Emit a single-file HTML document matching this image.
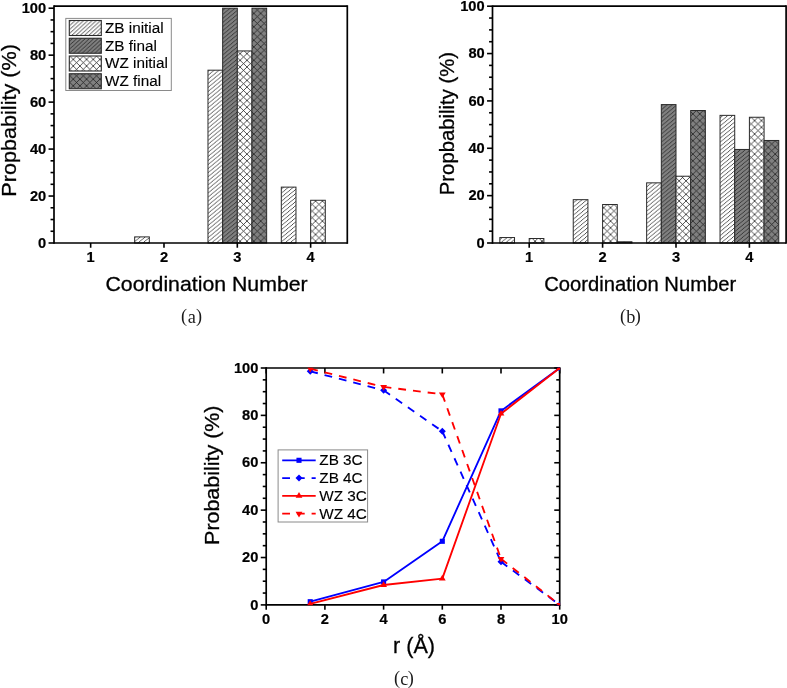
<!DOCTYPE html>
<html><head><meta charset="utf-8"><title>figure</title>
<style>
html,body{margin:0;padding:0;background:#fff;}
body{width:787px;height:688px;overflow:hidden;font-family:"Liberation Sans",sans-serif;}
svg{display:block;will-change:transform;}
</style></head><body>
<svg width="787" height="688" viewBox="0 0 787 688">
<defs>
<pattern id="h1" patternUnits="userSpaceOnUse" width="4.9" height="4.06"><path d="M0,4.06 L4.9,0 M-1.225,1.015 L1.225,-1.015 M3.6750000000000003,5.074999999999999 L6.125,3.045" stroke="#1a1a1a" stroke-width="0.75" fill="none"/></pattern>
<pattern id="h2" patternUnits="userSpaceOnUse" width="4.9" height="4.06"><path d="M0,4.06 L4.9,0 M-1.225,1.015 L1.225,-1.015 M3.6750000000000003,5.074999999999999 L6.125,3.045" stroke="#1a1a1a" stroke-width="0.75" fill="none"/></pattern>
<pattern id="h3" patternUnits="userSpaceOnUse" width="6.86" height="6.7"><path d="M0,6.7 L6.86,0 M-1.715,1.675 L1.715,-1.675 M5.1450000000000005,8.375 L8.575000000000001,5.025 M0,0 L6.86,6.7 M-1.715,5.025 L1.715,8.375 M5.1450000000000005,-1.675 L8.575000000000001,1.675" stroke="#1a1a1a" stroke-width="0.75" fill="none"/></pattern>
<pattern id="h4" patternUnits="userSpaceOnUse" width="6.86" height="6.7"><path d="M0,6.7 L6.86,0 M-1.715,1.675 L1.715,-1.675 M5.1450000000000005,8.375 L8.575000000000001,5.025 M0,0 L6.86,6.7 M-1.715,5.025 L1.715,8.375 M5.1450000000000005,-1.675 L8.575000000000001,1.675" stroke="#1a1a1a" stroke-width="0.75" fill="none"/></pattern>
<pattern id="l1" patternUnits="userSpaceOnUse" width="4.24" height="3.9"><path d="M0,3.9 L4.24,0 M-1.06,0.975 L1.06,-0.975 M3.18,4.875 L5.300000000000001,2.925" stroke="#1a1a1a" stroke-width="0.75" fill="none"/></pattern>
<pattern id="l3" patternUnits="userSpaceOnUse" width="6.66" height="6.6"><path d="M0,6.6 L6.66,0 M-1.665,1.65 L1.665,-1.65 M4.995,8.25 L8.325,4.949999999999999 M0,0 L6.66,6.6 M-1.665,4.949999999999999 L1.665,8.25 M4.995,-1.65 L8.325,1.65" stroke="#1a1a1a" stroke-width="0.75" fill="none"/></pattern>
</defs>
<rect width="787" height="688" fill="#fff"/>
<rect x="134.66" y="236.90" width="14.66" height="6.10" fill="#fff"/>
<rect x="134.66" y="236.90" width="14.66" height="6.10" fill="url(#h1)" stroke="#2a2a2a" stroke-width="1"/>
<rect x="207.98" y="70.19" width="14.66" height="172.81" fill="#fff"/>
<rect x="207.98" y="70.19" width="14.66" height="172.81" fill="url(#h1)" stroke="#2a2a2a" stroke-width="1"/>
<rect x="281.31" y="187.12" width="14.66" height="55.88" fill="#fff"/>
<rect x="281.31" y="187.12" width="14.66" height="55.88" fill="url(#h1)" stroke="#2a2a2a" stroke-width="1"/>
<rect x="222.65" y="8.20" width="14.66" height="234.80" fill="#808080"/>
<rect x="222.65" y="8.20" width="14.66" height="234.80" fill="url(#h2)" stroke="#2a2a2a" stroke-width="1"/>
<rect x="237.31" y="50.93" width="14.66" height="192.07" fill="#fff"/>
<rect x="237.31" y="50.93" width="14.66" height="192.07" fill="url(#h3)" stroke="#2a2a2a" stroke-width="1"/>
<rect x="310.64" y="200.27" width="14.67" height="42.73" fill="#fff"/>
<rect x="310.64" y="200.27" width="14.67" height="42.73" fill="url(#h3)" stroke="#2a2a2a" stroke-width="1"/>
<rect x="251.98" y="8.20" width="14.67" height="234.80" fill="#808080"/>
<rect x="251.98" y="8.20" width="14.67" height="234.80" fill="url(#h4)" stroke="#2a2a2a" stroke-width="1"/>
<line x1="54.00" y1="5.25" x2="54.00" y2="243.85" stroke="#000" stroke-width="1.7" />
<line x1="347.30" y1="5.25" x2="347.30" y2="243.85" stroke="#000" stroke-width="1.7" />
<line x1="54.00" y1="6.10" x2="347.30" y2="6.10" stroke="#000" stroke-width="1.7" />
<line x1="54.00" y1="243.00" x2="347.30" y2="243.00" stroke="#000" stroke-width="1.7" />
<line x1="48.55" y1="243.00" x2="54.00" y2="243.00" stroke="#000" stroke-width="1.6" />
<text x="46.20" y="247.60" font-family="'Liberation Sans', sans-serif" font-size="14.67" font-weight="bold" text-anchor="end" stroke="#000" stroke-width="0.2" >0</text>
<line x1="50.55" y1="231.26" x2="54.00" y2="231.26" stroke="#000" stroke-width="1.6" />
<line x1="50.55" y1="219.52" x2="54.00" y2="219.52" stroke="#000" stroke-width="1.6" />
<line x1="50.55" y1="207.78" x2="54.00" y2="207.78" stroke="#000" stroke-width="1.6" />
<line x1="48.55" y1="196.04" x2="54.00" y2="196.04" stroke="#000" stroke-width="1.6" />
<text x="46.20" y="200.64" font-family="'Liberation Sans', sans-serif" font-size="14.67" font-weight="bold" text-anchor="end" stroke="#000" stroke-width="0.2" >20</text>
<line x1="50.55" y1="184.30" x2="54.00" y2="184.30" stroke="#000" stroke-width="1.6" />
<line x1="50.55" y1="172.56" x2="54.00" y2="172.56" stroke="#000" stroke-width="1.6" />
<line x1="50.55" y1="160.82" x2="54.00" y2="160.82" stroke="#000" stroke-width="1.6" />
<line x1="48.55" y1="149.08" x2="54.00" y2="149.08" stroke="#000" stroke-width="1.6" />
<text x="46.20" y="153.68" font-family="'Liberation Sans', sans-serif" font-size="14.67" font-weight="bold" text-anchor="end" stroke="#000" stroke-width="0.2" >40</text>
<line x1="50.55" y1="137.34" x2="54.00" y2="137.34" stroke="#000" stroke-width="1.6" />
<line x1="50.55" y1="125.60" x2="54.00" y2="125.60" stroke="#000" stroke-width="1.6" />
<line x1="50.55" y1="113.86" x2="54.00" y2="113.86" stroke="#000" stroke-width="1.6" />
<line x1="48.55" y1="102.12" x2="54.00" y2="102.12" stroke="#000" stroke-width="1.6" />
<text x="46.20" y="106.72" font-family="'Liberation Sans', sans-serif" font-size="14.67" font-weight="bold" text-anchor="end" stroke="#000" stroke-width="0.2" >60</text>
<line x1="50.55" y1="90.38" x2="54.00" y2="90.38" stroke="#000" stroke-width="1.6" />
<line x1="50.55" y1="78.64" x2="54.00" y2="78.64" stroke="#000" stroke-width="1.6" />
<line x1="50.55" y1="66.90" x2="54.00" y2="66.90" stroke="#000" stroke-width="1.6" />
<line x1="48.55" y1="55.16" x2="54.00" y2="55.16" stroke="#000" stroke-width="1.6" />
<text x="46.20" y="59.76" font-family="'Liberation Sans', sans-serif" font-size="14.67" font-weight="bold" text-anchor="end" stroke="#000" stroke-width="0.2" >80</text>
<line x1="50.55" y1="43.42" x2="54.00" y2="43.42" stroke="#000" stroke-width="1.6" />
<line x1="50.55" y1="31.68" x2="54.00" y2="31.68" stroke="#000" stroke-width="1.6" />
<line x1="50.55" y1="19.94" x2="54.00" y2="19.94" stroke="#000" stroke-width="1.6" />
<line x1="48.55" y1="8.20" x2="54.00" y2="8.20" stroke="#000" stroke-width="1.6" />
<text x="46.20" y="12.80" font-family="'Liberation Sans', sans-serif" font-size="14.67" font-weight="bold" text-anchor="end" stroke="#000" stroke-width="0.2" >100</text>
<line x1="90.66" y1="243.00" x2="90.66" y2="247.75" stroke="#000" stroke-width="1.6" />
<text x="90.66" y="262.10" font-family="'Liberation Sans', sans-serif" font-size="14.67" font-weight="bold" text-anchor="middle" stroke="#000" stroke-width="0.2" >1</text>
<line x1="163.99" y1="243.00" x2="163.99" y2="247.75" stroke="#000" stroke-width="1.6" />
<text x="163.99" y="262.10" font-family="'Liberation Sans', sans-serif" font-size="14.67" font-weight="bold" text-anchor="middle" stroke="#000" stroke-width="0.2" >2</text>
<line x1="237.31" y1="243.00" x2="237.31" y2="247.75" stroke="#000" stroke-width="1.6" />
<text x="237.31" y="262.10" font-family="'Liberation Sans', sans-serif" font-size="14.67" font-weight="bold" text-anchor="middle" stroke="#000" stroke-width="0.2" >3</text>
<line x1="310.64" y1="243.00" x2="310.64" y2="247.75" stroke="#000" stroke-width="1.6" />
<text x="310.64" y="262.10" font-family="'Liberation Sans', sans-serif" font-size="14.67" font-weight="bold" text-anchor="middle" stroke="#000" stroke-width="0.2" >4</text>
<text x="206.55" y="291.00" font-family="'Liberation Sans', sans-serif" font-size="20.6" font-weight="normal" text-anchor="middle" stroke="#000" stroke-width="0.3" textLength="202.2" lengthAdjust="spacingAndGlyphs">Coordination Number</text>
<text x="16.30" y="120.40" font-family="'Liberation Sans', sans-serif" font-size="20.6" font-weight="normal" text-anchor="middle" stroke="#000" stroke-width="0.3" textLength="152.5" lengthAdjust="spacingAndGlyphs" transform="rotate(-90 16.30 120.40)">Propbability (%)</text>
<rect x="499.84" y="237.55" width="14.68" height="5.45" fill="#fff"/>
<rect x="499.84" y="237.55" width="14.68" height="5.45" fill="url(#h1)" stroke="#2a2a2a" stroke-width="1"/>
<rect x="573.24" y="199.67" width="14.68" height="43.33" fill="#fff"/>
<rect x="573.24" y="199.67" width="14.68" height="43.33" fill="url(#h1)" stroke="#2a2a2a" stroke-width="1"/>
<rect x="646.64" y="182.85" width="14.68" height="60.15" fill="#fff"/>
<rect x="646.64" y="182.85" width="14.68" height="60.15" fill="url(#h1)" stroke="#2a2a2a" stroke-width="1"/>
<rect x="720.04" y="115.36" width="14.68" height="127.64" fill="#fff"/>
<rect x="720.04" y="115.36" width="14.68" height="127.64" fill="url(#h1)" stroke="#2a2a2a" stroke-width="1"/>
<rect x="661.32" y="104.59" width="14.68" height="138.41" fill="#808080"/>
<rect x="661.32" y="104.59" width="14.68" height="138.41" fill="url(#h2)" stroke="#2a2a2a" stroke-width="1"/>
<rect x="734.72" y="149.46" width="14.68" height="93.54" fill="#808080"/>
<rect x="734.72" y="149.46" width="14.68" height="93.54" fill="url(#h2)" stroke="#2a2a2a" stroke-width="1"/>
<rect x="529.20" y="238.50" width="14.68" height="4.50" fill="#fff"/>
<rect x="529.20" y="238.50" width="14.68" height="4.50" fill="url(#h3)" stroke="#2a2a2a" stroke-width="1"/>
<rect x="602.60" y="204.52" width="14.68" height="38.48" fill="#fff"/>
<rect x="602.60" y="204.52" width="14.68" height="38.48" fill="url(#h3)" stroke="#2a2a2a" stroke-width="1"/>
<rect x="676.00" y="176.22" width="14.68" height="66.78" fill="#fff"/>
<rect x="676.00" y="176.22" width="14.68" height="66.78" fill="url(#h3)" stroke="#2a2a2a" stroke-width="1"/>
<rect x="749.40" y="117.26" width="14.68" height="125.74" fill="#fff"/>
<rect x="749.40" y="117.26" width="14.68" height="125.74" fill="url(#h3)" stroke="#2a2a2a" stroke-width="1"/>
<rect x="617.28" y="241.82" width="14.68" height="1.18" fill="#808080"/>
<rect x="617.28" y="241.82" width="14.68" height="1.18" fill="url(#h4)" stroke="#2a2a2a" stroke-width="1"/>
<rect x="690.68" y="110.51" width="14.68" height="132.49" fill="#808080"/>
<rect x="690.68" y="110.51" width="14.68" height="132.49" fill="url(#h4)" stroke="#2a2a2a" stroke-width="1"/>
<rect x="764.08" y="140.47" width="14.68" height="102.53" fill="#808080"/>
<rect x="764.08" y="140.47" width="14.68" height="102.53" fill="url(#h4)" stroke="#2a2a2a" stroke-width="1"/>
<line x1="492.50" y1="5.35" x2="492.50" y2="243.85" stroke="#000" stroke-width="1.7" />
<line x1="786.10" y1="5.35" x2="786.10" y2="243.85" stroke="#000" stroke-width="1.7" />
<line x1="492.50" y1="6.20" x2="786.10" y2="6.20" stroke="#000" stroke-width="1.7" />
<line x1="492.50" y1="243.00" x2="786.10" y2="243.00" stroke="#000" stroke-width="1.7" />
<line x1="487.05" y1="243.00" x2="492.50" y2="243.00" stroke="#000" stroke-width="1.6" />
<text x="484.70" y="247.60" font-family="'Liberation Sans', sans-serif" font-size="14.67" font-weight="bold" text-anchor="end" stroke="#000" stroke-width="0.2" >0</text>
<line x1="489.05" y1="231.16" x2="492.50" y2="231.16" stroke="#000" stroke-width="1.6" />
<line x1="489.05" y1="219.32" x2="492.50" y2="219.32" stroke="#000" stroke-width="1.6" />
<line x1="489.05" y1="207.48" x2="492.50" y2="207.48" stroke="#000" stroke-width="1.6" />
<line x1="487.05" y1="195.64" x2="492.50" y2="195.64" stroke="#000" stroke-width="1.6" />
<text x="484.70" y="200.24" font-family="'Liberation Sans', sans-serif" font-size="14.67" font-weight="bold" text-anchor="end" stroke="#000" stroke-width="0.2" >20</text>
<line x1="489.05" y1="183.80" x2="492.50" y2="183.80" stroke="#000" stroke-width="1.6" />
<line x1="489.05" y1="171.96" x2="492.50" y2="171.96" stroke="#000" stroke-width="1.6" />
<line x1="489.05" y1="160.12" x2="492.50" y2="160.12" stroke="#000" stroke-width="1.6" />
<line x1="487.05" y1="148.28" x2="492.50" y2="148.28" stroke="#000" stroke-width="1.6" />
<text x="484.70" y="152.88" font-family="'Liberation Sans', sans-serif" font-size="14.67" font-weight="bold" text-anchor="end" stroke="#000" stroke-width="0.2" >40</text>
<line x1="489.05" y1="136.44" x2="492.50" y2="136.44" stroke="#000" stroke-width="1.6" />
<line x1="489.05" y1="124.60" x2="492.50" y2="124.60" stroke="#000" stroke-width="1.6" />
<line x1="489.05" y1="112.76" x2="492.50" y2="112.76" stroke="#000" stroke-width="1.6" />
<line x1="487.05" y1="100.92" x2="492.50" y2="100.92" stroke="#000" stroke-width="1.6" />
<text x="484.70" y="105.52" font-family="'Liberation Sans', sans-serif" font-size="14.67" font-weight="bold" text-anchor="end" stroke="#000" stroke-width="0.2" >60</text>
<line x1="489.05" y1="89.08" x2="492.50" y2="89.08" stroke="#000" stroke-width="1.6" />
<line x1="489.05" y1="77.24" x2="492.50" y2="77.24" stroke="#000" stroke-width="1.6" />
<line x1="489.05" y1="65.40" x2="492.50" y2="65.40" stroke="#000" stroke-width="1.6" />
<line x1="487.05" y1="53.56" x2="492.50" y2="53.56" stroke="#000" stroke-width="1.6" />
<text x="484.70" y="58.16" font-family="'Liberation Sans', sans-serif" font-size="14.67" font-weight="bold" text-anchor="end" stroke="#000" stroke-width="0.2" >80</text>
<line x1="489.05" y1="41.72" x2="492.50" y2="41.72" stroke="#000" stroke-width="1.6" />
<line x1="489.05" y1="29.88" x2="492.50" y2="29.88" stroke="#000" stroke-width="1.6" />
<line x1="489.05" y1="18.04" x2="492.50" y2="18.04" stroke="#000" stroke-width="1.6" />
<line x1="487.05" y1="6.20" x2="492.50" y2="6.20" stroke="#000" stroke-width="1.6" />
<text x="484.70" y="10.80" font-family="'Liberation Sans', sans-serif" font-size="14.67" font-weight="bold" text-anchor="end" stroke="#000" stroke-width="0.2" >100</text>
<line x1="529.20" y1="243.00" x2="529.20" y2="247.75" stroke="#000" stroke-width="1.6" />
<text x="529.20" y="262.10" font-family="'Liberation Sans', sans-serif" font-size="14.67" font-weight="bold" text-anchor="middle" stroke="#000" stroke-width="0.2" >1</text>
<line x1="602.60" y1="243.00" x2="602.60" y2="247.75" stroke="#000" stroke-width="1.6" />
<text x="602.60" y="262.10" font-family="'Liberation Sans', sans-serif" font-size="14.67" font-weight="bold" text-anchor="middle" stroke="#000" stroke-width="0.2" >2</text>
<line x1="676.00" y1="243.00" x2="676.00" y2="247.75" stroke="#000" stroke-width="1.6" />
<text x="676.00" y="262.10" font-family="'Liberation Sans', sans-serif" font-size="14.67" font-weight="bold" text-anchor="middle" stroke="#000" stroke-width="0.2" >3</text>
<line x1="749.40" y1="243.00" x2="749.40" y2="247.75" stroke="#000" stroke-width="1.6" />
<text x="749.40" y="262.10" font-family="'Liberation Sans', sans-serif" font-size="14.67" font-weight="bold" text-anchor="middle" stroke="#000" stroke-width="0.2" >4</text>
<text x="640.20" y="291.00" font-family="'Liberation Sans', sans-serif" font-size="20.2" font-weight="normal" text-anchor="middle" stroke="#000" stroke-width="0.3" >Coordination Number</text>
<text x="454.00" y="123.60" font-family="'Liberation Sans', sans-serif" font-size="20.3" font-weight="normal" text-anchor="middle" stroke="#000" stroke-width="0.3"  transform="rotate(-90 454.00 123.60)">Propbability (%)</text>
<rect x="65.8" y="18.4" width="105.50" height="72.10" fill="#fff" stroke="#8a8a8a" stroke-width="1"/>
<rect x="69.3" y="20.50" width="32.0" height="15.0" fill="#fff"/>
<rect x="69.3" y="20.50" width="32.0" height="15.0" fill="url(#l1)" stroke="#2a2a2a" stroke-width="1.1"/>
<text x="105.00" y="32.90" font-family="'Liberation Sans', sans-serif" font-size="15.3" font-weight="normal" text-anchor="start" stroke="#000" stroke-width="0.12" >ZB initial</text>
<rect x="69.3" y="38.25" width="32.0" height="15.0" fill="#808080"/>
<rect x="69.3" y="38.25" width="32.0" height="15.0" fill="url(#l1)" stroke="#2a2a2a" stroke-width="1.1"/>
<text x="105.00" y="50.55" font-family="'Liberation Sans', sans-serif" font-size="15.3" font-weight="normal" text-anchor="start" stroke="#000" stroke-width="0.12" >ZB final</text>
<rect x="69.3" y="56.00" width="32.0" height="15.0" fill="#fff"/>
<rect x="69.3" y="56.00" width="32.0" height="15.0" fill="url(#l3)" stroke="#2a2a2a" stroke-width="1.1"/>
<text x="105.00" y="68.20" font-family="'Liberation Sans', sans-serif" font-size="15.3" font-weight="normal" text-anchor="start" stroke="#000" stroke-width="0.12" >WZ initial</text>
<rect x="69.3" y="73.75" width="32.0" height="15.0" fill="#808080"/>
<rect x="69.3" y="73.75" width="32.0" height="15.0" fill="url(#l3)" stroke="#2a2a2a" stroke-width="1.1"/>
<text x="105.00" y="85.85" font-family="'Liberation Sans', sans-serif" font-size="15.3" font-weight="normal" text-anchor="start" stroke="#000" stroke-width="0.12" >WZ final</text>
<line x1="266.20" y1="367.15" x2="266.20" y2="605.75" stroke="#000" stroke-width="1.7" />
<line x1="559.70" y1="367.15" x2="559.70" y2="605.75" stroke="#000" stroke-width="1.7" />
<line x1="266.20" y1="368.00" x2="559.70" y2="368.00" stroke="#000" stroke-width="1.7" />
<line x1="266.20" y1="604.90" x2="559.70" y2="604.90" stroke="#000" stroke-width="1.7" />
<line x1="260.75" y1="604.90" x2="266.20" y2="604.90" stroke="#000" stroke-width="1.6" />
<line x1="559.70" y1="604.90" x2="554.25" y2="604.90" stroke="#000" stroke-width="1.6" />
<text x="258.40" y="609.50" font-family="'Liberation Sans', sans-serif" font-size="14.67" font-weight="bold" text-anchor="end" stroke="#000" stroke-width="0.2" >0</text>
<line x1="262.75" y1="593.05" x2="266.20" y2="593.05" stroke="#000" stroke-width="1.6" />
<line x1="559.70" y1="593.05" x2="556.25" y2="593.05" stroke="#000" stroke-width="1.6" />
<line x1="262.75" y1="581.21" x2="266.20" y2="581.21" stroke="#000" stroke-width="1.6" />
<line x1="559.70" y1="581.21" x2="556.25" y2="581.21" stroke="#000" stroke-width="1.6" />
<line x1="262.75" y1="569.37" x2="266.20" y2="569.37" stroke="#000" stroke-width="1.6" />
<line x1="559.70" y1="569.37" x2="556.25" y2="569.37" stroke="#000" stroke-width="1.6" />
<line x1="260.75" y1="557.52" x2="266.20" y2="557.52" stroke="#000" stroke-width="1.6" />
<line x1="559.70" y1="557.52" x2="554.25" y2="557.52" stroke="#000" stroke-width="1.6" />
<text x="258.40" y="562.12" font-family="'Liberation Sans', sans-serif" font-size="14.67" font-weight="bold" text-anchor="end" stroke="#000" stroke-width="0.2" >20</text>
<line x1="262.75" y1="545.67" x2="266.20" y2="545.67" stroke="#000" stroke-width="1.6" />
<line x1="559.70" y1="545.67" x2="556.25" y2="545.67" stroke="#000" stroke-width="1.6" />
<line x1="262.75" y1="533.83" x2="266.20" y2="533.83" stroke="#000" stroke-width="1.6" />
<line x1="559.70" y1="533.83" x2="556.25" y2="533.83" stroke="#000" stroke-width="1.6" />
<line x1="262.75" y1="521.99" x2="266.20" y2="521.99" stroke="#000" stroke-width="1.6" />
<line x1="559.70" y1="521.99" x2="556.25" y2="521.99" stroke="#000" stroke-width="1.6" />
<line x1="260.75" y1="510.14" x2="266.20" y2="510.14" stroke="#000" stroke-width="1.6" />
<line x1="559.70" y1="510.14" x2="554.25" y2="510.14" stroke="#000" stroke-width="1.6" />
<text x="258.40" y="514.74" font-family="'Liberation Sans', sans-serif" font-size="14.67" font-weight="bold" text-anchor="end" stroke="#000" stroke-width="0.2" >40</text>
<line x1="262.75" y1="498.29" x2="266.20" y2="498.29" stroke="#000" stroke-width="1.6" />
<line x1="559.70" y1="498.29" x2="556.25" y2="498.29" stroke="#000" stroke-width="1.6" />
<line x1="262.75" y1="486.45" x2="266.20" y2="486.45" stroke="#000" stroke-width="1.6" />
<line x1="559.70" y1="486.45" x2="556.25" y2="486.45" stroke="#000" stroke-width="1.6" />
<line x1="262.75" y1="474.61" x2="266.20" y2="474.61" stroke="#000" stroke-width="1.6" />
<line x1="559.70" y1="474.61" x2="556.25" y2="474.61" stroke="#000" stroke-width="1.6" />
<line x1="260.75" y1="462.76" x2="266.20" y2="462.76" stroke="#000" stroke-width="1.6" />
<line x1="559.70" y1="462.76" x2="554.25" y2="462.76" stroke="#000" stroke-width="1.6" />
<text x="258.40" y="467.36" font-family="'Liberation Sans', sans-serif" font-size="14.67" font-weight="bold" text-anchor="end" stroke="#000" stroke-width="0.2" >60</text>
<line x1="262.75" y1="450.91" x2="266.20" y2="450.91" stroke="#000" stroke-width="1.6" />
<line x1="559.70" y1="450.91" x2="556.25" y2="450.91" stroke="#000" stroke-width="1.6" />
<line x1="262.75" y1="439.07" x2="266.20" y2="439.07" stroke="#000" stroke-width="1.6" />
<line x1="559.70" y1="439.07" x2="556.25" y2="439.07" stroke="#000" stroke-width="1.6" />
<line x1="262.75" y1="427.23" x2="266.20" y2="427.23" stroke="#000" stroke-width="1.6" />
<line x1="559.70" y1="427.23" x2="556.25" y2="427.23" stroke="#000" stroke-width="1.6" />
<line x1="260.75" y1="415.38" x2="266.20" y2="415.38" stroke="#000" stroke-width="1.6" />
<line x1="559.70" y1="415.38" x2="554.25" y2="415.38" stroke="#000" stroke-width="1.6" />
<text x="258.40" y="419.98" font-family="'Liberation Sans', sans-serif" font-size="14.67" font-weight="bold" text-anchor="end" stroke="#000" stroke-width="0.2" >80</text>
<line x1="262.75" y1="403.53" x2="266.20" y2="403.53" stroke="#000" stroke-width="1.6" />
<line x1="559.70" y1="403.53" x2="556.25" y2="403.53" stroke="#000" stroke-width="1.6" />
<line x1="262.75" y1="391.69" x2="266.20" y2="391.69" stroke="#000" stroke-width="1.6" />
<line x1="559.70" y1="391.69" x2="556.25" y2="391.69" stroke="#000" stroke-width="1.6" />
<line x1="262.75" y1="379.85" x2="266.20" y2="379.85" stroke="#000" stroke-width="1.6" />
<line x1="559.70" y1="379.85" x2="556.25" y2="379.85" stroke="#000" stroke-width="1.6" />
<line x1="260.75" y1="368.00" x2="266.20" y2="368.00" stroke="#000" stroke-width="1.6" />
<line x1="559.70" y1="368.00" x2="554.25" y2="368.00" stroke="#000" stroke-width="1.6" />
<text x="258.40" y="372.60" font-family="'Liberation Sans', sans-serif" font-size="14.67" font-weight="bold" text-anchor="end" stroke="#000" stroke-width="0.2" >100</text>
<line x1="266.20" y1="604.90" x2="266.20" y2="609.65" stroke="#000" stroke-width="1.6" />
<line x1="266.20" y1="368.00" x2="266.20" y2="373.45" stroke="#000" stroke-width="1.6" />
<text x="266.20" y="624.00" font-family="'Liberation Sans', sans-serif" font-size="14.67" font-weight="bold" text-anchor="middle" stroke="#000" stroke-width="0.2" >0</text>
<line x1="324.90" y1="604.90" x2="324.90" y2="609.65" stroke="#000" stroke-width="1.6" />
<line x1="324.90" y1="368.00" x2="324.90" y2="373.45" stroke="#000" stroke-width="1.6" />
<text x="324.90" y="624.00" font-family="'Liberation Sans', sans-serif" font-size="14.67" font-weight="bold" text-anchor="middle" stroke="#000" stroke-width="0.2" >2</text>
<line x1="383.60" y1="604.90" x2="383.60" y2="609.65" stroke="#000" stroke-width="1.6" />
<line x1="383.60" y1="368.00" x2="383.60" y2="373.45" stroke="#000" stroke-width="1.6" />
<text x="383.60" y="624.00" font-family="'Liberation Sans', sans-serif" font-size="14.67" font-weight="bold" text-anchor="middle" stroke="#000" stroke-width="0.2" >4</text>
<line x1="442.30" y1="604.90" x2="442.30" y2="609.65" stroke="#000" stroke-width="1.6" />
<line x1="442.30" y1="368.00" x2="442.30" y2="373.45" stroke="#000" stroke-width="1.6" />
<text x="442.30" y="624.00" font-family="'Liberation Sans', sans-serif" font-size="14.67" font-weight="bold" text-anchor="middle" stroke="#000" stroke-width="0.2" >6</text>
<line x1="501.00" y1="604.90" x2="501.00" y2="609.65" stroke="#000" stroke-width="1.6" />
<line x1="501.00" y1="368.00" x2="501.00" y2="373.45" stroke="#000" stroke-width="1.6" />
<text x="501.00" y="624.00" font-family="'Liberation Sans', sans-serif" font-size="14.67" font-weight="bold" text-anchor="middle" stroke="#000" stroke-width="0.2" >8</text>
<line x1="559.70" y1="604.90" x2="559.70" y2="609.65" stroke="#000" stroke-width="1.6" />
<line x1="559.70" y1="368.00" x2="559.70" y2="373.45" stroke="#000" stroke-width="1.6" />
<text x="559.70" y="624.00" font-family="'Liberation Sans', sans-serif" font-size="14.67" font-weight="bold" text-anchor="middle" stroke="#000" stroke-width="0.2" >10</text>
<clipPath id="cc"><rect x="266.2" y="367.7" width="293.90000000000003" height="237.49999999999997"/></clipPath>
<g clip-path="url(#cc)">
<polyline points="310.23,601.70 383.60,581.92 442.30,541.29 501.00,410.88 559.70,368.00" fill="none" stroke="#0000ff" stroke-width="1.85" stroke-linejoin="round"/>
<rect x="307.68" y="599.15" width="5.1" height="5.1" fill="#0000ff"/>
<rect x="381.05" y="579.37" width="5.1" height="5.1" fill="#0000ff"/>
<rect x="439.75" y="538.74" width="5.1" height="5.1" fill="#0000ff"/>
<rect x="498.45" y="408.33" width="5.1" height="5.1" fill="#0000ff"/>
<rect x="557.15" y="365.45" width="5.1" height="5.1" fill="#0000ff"/>
<line x1="310.23" y1="371.32" x2="383.60" y2="390.27" stroke="#0000ff" stroke-width="1.85" stroke-dasharray="7.8 7.0"/>
<line x1="383.60" y1="390.27" x2="442.30" y2="431.25" stroke="#0000ff" stroke-width="1.85" stroke-dasharray="7.8 7.0"/>
<line x1="442.30" y1="431.25" x2="501.00" y2="561.78" stroke="#0000ff" stroke-width="1.85" stroke-dasharray="7.8 7.0"/>
<line x1="501.00" y1="561.78" x2="559.70" y2="604.90" stroke="#0000ff" stroke-width="1.85" stroke-dasharray="7.8 7.0"/>
<polygon points="310.23,367.82 313.73,371.32 310.23,374.82 306.73,371.32" fill="#0000ff"/>
<polygon points="383.60,386.77 387.10,390.27 383.60,393.77 380.10,390.27" fill="#0000ff"/>
<polygon points="442.30,427.75 445.80,431.25 442.30,434.75 438.80,431.25" fill="#0000ff"/>
<polygon points="501.00,558.28 504.50,561.78 501.00,565.28 497.50,561.78" fill="#0000ff"/>
<polygon points="559.70,601.40 563.20,604.90 559.70,608.40 556.20,604.90" fill="#0000ff"/>
<polyline points="310.23,603.95 383.60,585.00 442.30,578.60 501.00,413.72 559.70,368.00" fill="none" stroke="#ff0000" stroke-width="1.85" stroke-linejoin="round"/>
<polygon points="310.23,600.15 313.62,605.85 306.83,605.85" fill="#ff0000"/>
<polygon points="383.60,581.20 387.00,586.90 380.20,586.90" fill="#ff0000"/>
<polygon points="442.30,574.80 445.70,580.50 438.90,580.50" fill="#ff0000"/>
<polygon points="501.00,409.92 504.40,415.62 497.60,415.62" fill="#ff0000"/>
<polygon points="559.70,364.20 563.10,369.90 556.30,369.90" fill="#ff0000"/>
<line x1="310.23" y1="368.71" x2="383.60" y2="386.95" stroke="#ff0000" stroke-width="1.85" stroke-dasharray="7.8 7.0"/>
<line x1="383.60" y1="386.95" x2="442.30" y2="394.30" stroke="#ff0000" stroke-width="1.85" stroke-dasharray="7.8 7.0"/>
<line x1="442.30" y1="394.30" x2="501.00" y2="558.82" stroke="#ff0000" stroke-width="1.85" stroke-dasharray="7.8 7.0"/>
<line x1="501.00" y1="558.82" x2="559.70" y2="604.90" stroke="#ff0000" stroke-width="1.85" stroke-dasharray="7.8 7.0"/>
<polygon points="310.23,372.51 313.62,366.81 306.83,366.81" fill="#ff0000"/>
<polygon points="383.60,390.75 387.00,385.05 380.20,385.05" fill="#ff0000"/>
<polygon points="442.30,398.10 445.70,392.40 438.90,392.40" fill="#ff0000"/>
<polygon points="501.00,562.62 504.40,556.92 497.60,556.92" fill="#ff0000"/>
<polygon points="559.70,608.70 563.10,603.00 556.30,603.00" fill="#ff0000"/>
</g>
<text x="414.00" y="652.90" font-family="'Liberation Sans', sans-serif" font-size="21.6" font-weight="normal" text-anchor="middle" stroke="#000" stroke-width="0.3" >r (Å)</text>
<text x="219.40" y="475.20" font-family="'Liberation Sans', sans-serif" font-size="20.6" font-weight="normal" text-anchor="middle" stroke="#000" stroke-width="0.3" textLength="139.4" lengthAdjust="spacingAndGlyphs" transform="rotate(-90 219.40 475.20)">Probability (%)</text>
<rect x="278.1" y="449.9" width="89.50" height="72.10" fill="#fff" stroke="#8a8a8a" stroke-width="1"/>
<line x1="282.20" y1="460.30" x2="315.70" y2="460.30" stroke="#0000ff" stroke-width="1.85" />
<rect x="296.45" y="457.75" width="5.1" height="5.1" fill="#0000ff"/>
<text x="319.30" y="465.40" font-family="'Liberation Sans', sans-serif" font-size="15.3" font-weight="normal" text-anchor="start" stroke="#000" stroke-width="0.12" >ZB 3C</text>
<line x1="282.20" y1="478.07" x2="315.70" y2="478.07" stroke="#0000ff" stroke-width="1.85" stroke-dasharray="7.8 6.9"/>
<polygon points="299.00,474.57 302.50,478.07 299.00,481.57 295.50,478.07" fill="#0000ff"/>
<text x="319.30" y="483.17" font-family="'Liberation Sans', sans-serif" font-size="15.3" font-weight="normal" text-anchor="start" stroke="#000" stroke-width="0.12" >ZB 4C</text>
<line x1="282.20" y1="495.84" x2="315.70" y2="495.84" stroke="#ff0000" stroke-width="1.85" />
<polygon points="299.00,492.04 302.40,497.74 295.60,497.74" fill="#ff0000"/>
<text x="319.30" y="500.94" font-family="'Liberation Sans', sans-serif" font-size="15.3" font-weight="normal" text-anchor="start" stroke="#000" stroke-width="0.12" >WZ 3C</text>
<line x1="282.20" y1="513.61" x2="315.70" y2="513.61" stroke="#ff0000" stroke-width="1.85" stroke-dasharray="7.8 6.9"/>
<polygon points="299.00,517.41 302.40,511.71 295.60,511.71" fill="#ff0000"/>
<text x="319.30" y="518.71" font-family="'Liberation Sans', sans-serif" font-size="15.3" font-weight="normal" text-anchor="start" stroke="#000" stroke-width="0.12" >WZ 4C</text>
<text x="184.00" y="322.20" font-family="'Liberation Serif', sans-serif" font-size="18.2" font-weight="normal" text-anchor="middle" fill="#1a1a1a">(</text>
<text x="191.85" y="322.80" font-family="'Liberation Serif', sans-serif" font-size="18.3" font-weight="normal" text-anchor="middle" fill="#1a1a1a">a</text>
<text x="199.00" y="322.20" font-family="'Liberation Serif', sans-serif" font-size="18.2" font-weight="normal" text-anchor="middle" fill="#1a1a1a">)</text>
<text x="623.00" y="322.20" font-family="'Liberation Serif', sans-serif" font-size="18.2" font-weight="normal" text-anchor="middle" fill="#1a1a1a">(</text>
<text x="630.70" y="322.80" font-family="'Liberation Serif', sans-serif" font-size="18.3" font-weight="normal" text-anchor="middle" fill="#1a1a1a">b</text>
<text x="637.70" y="322.20" font-family="'Liberation Serif', sans-serif" font-size="18.2" font-weight="normal" text-anchor="middle" fill="#1a1a1a">)</text>
<text x="397.00" y="684.10" font-family="'Liberation Serif', sans-serif" font-size="18.2" font-weight="normal" text-anchor="middle" fill="#1a1a1a">(</text>
<text x="404.25" y="684.70" font-family="'Liberation Serif', sans-serif" font-size="18.3" font-weight="normal" text-anchor="middle" fill="#1a1a1a">c</text>
<text x="410.80" y="684.10" font-family="'Liberation Serif', sans-serif" font-size="18.2" font-weight="normal" text-anchor="middle" fill="#1a1a1a">)</text>
</svg>
</body></html>
